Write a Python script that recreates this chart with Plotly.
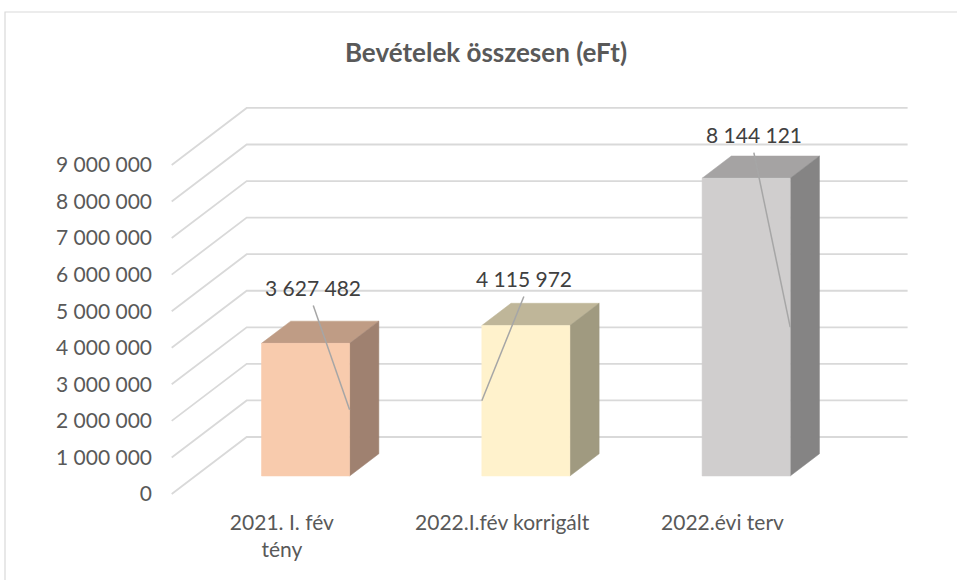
import plotly.graph_objects as go

# ---- data ----
categories = ["2021. I. fév<br>tény", "2022.I.fév korrigált", "2022.évi terv"]
values = [3627482, 4115972, 8144121]
value_labels = ["3 627 482", "4 115 972", "8 144 121"]
y_ticks = [0, 1000000, 2000000, 3000000, 4000000, 5000000, 6000000, 7000000, 8000000, 9000000]

# ---- styles / layout ----
front_colors = ["#F8CBAD", "#FFF2CC", "#D0CECE"]
top_colors = ["#BF9C85", "#BFB699", "#A5A3A3"]
side_colors = ["#9F8170", "#A09A80", "#858484"]
grid_color = "#D9D9D9"
text_color = "#595959"
label_color = "#404040"
leader_color = "#A6A6A6"
FONT = "Lato, 'Open Sans', sans-serif"

# 3D projection parameters (axis units)
D = 0.3404        # full depth shift in x (category units)
H = 1559000       # full depth shift in y (value units)
HALF_W = 0.2      # bar half width
D_FRONT = 0.316   # depth fraction of bar front
D_BACK = 0.706    # depth fraction of bar back

# label offsets relative to bar front top
label_dx = [0.035, -0.009, 0.035]
label_dy = [1515000, 1273000, 1183000]
leader_gap = 480000
anchor_side = [1, -1, 1]

# pixel geometry of plot area
W, Hpx = 957, 580
L, R, T, B = 165, 915, 100, 500
PX_X = 220.3          # px per category unit
PX_Y = 36.56 / 1e6    # px per value unit
X0PX = 171.7          # pixel of x=-0.5
Y0PX = 494            # pixel of y=0


def px2x(p):
    return -0.5 + (p - X0PX) / PX_X


def px2y(p):
    return (Y0PX - p) / PX_Y


fig = go.Figure()

# gridlines: side wall diagonal + back wall horizontal
n_cat = len(categories)
for v in y_ticks:
    fig.add_trace(go.Scatter(
        x=[-0.5, -0.5 + D, n_cat - 0.5 + D],
        y=[v, v + H, v + H],
        mode="lines", line=dict(color=grid_color, width=1.8),
        hoverinfo="skip", showlegend=False))

# bars
for i, v in enumerate(values):
    xl, xr = i - HALF_W, i + HALF_W
    fx, fy = D_FRONT * D, D_FRONT * H
    bx, by = D_BACK * D, D_BACK * H
    # top face
    fig.add_trace(go.Scatter(
        x=[xl + fx, xr + fx, xr + bx, xl + bx, xl + fx],
        y=[v + fy, v + fy, v + by, v + by, v + fy],
        fill="toself", fillcolor=top_colors[i], mode="lines",
        line=dict(color=top_colors[i], width=0.5),
        hoverinfo="skip", showlegend=False))
    # side face
    fig.add_trace(go.Scatter(
        x=[xr + fx, xr + bx, xr + bx, xr + fx, xr + fx],
        y=[fy, by, v + by, v + fy, fy],
        fill="toself", fillcolor=side_colors[i], mode="lines",
        line=dict(color=side_colors[i], width=0.5),
        hoverinfo="skip", showlegend=False))
    # front face
    fig.add_trace(go.Scatter(
        x=[xl + fx, xr + fx, xr + fx, xl + fx, xl + fx],
        y=[fy, fy, v + fy, v + fy, fy],
        fill="toself", fillcolor=front_colors[i], mode="lines",
        line=dict(color=front_colors[i], width=0.5),
        hoverinfo="skip", showlegend=False))

# data labels with leader lines
for i, v in enumerate(values):
    fx, fy = D_FRONT * D, D_FRONT * H
    lx = i + fx + label_dx[i]
    ly = v + fy + label_dy[i]
    ax = i + anchor_side[i] * HALF_W + fx
    ay = v / 2 + fy
    fig.add_trace(go.Scatter(
        x=[lx, ax], y=[ly - leader_gap, ay], mode="lines",
        line=dict(color=leader_color, width=1.5),
        hoverinfo="skip", showlegend=False))
    fig.add_annotation(x=lx, y=ly, text=value_labels[i], showarrow=False,
                       xanchor="center", yanchor="middle",
                       font=dict(family=FONT, size=21, color=label_color))

# outer border
fig.add_shape(type="rect", xref="paper", yref="paper",
              x0=(5 - L) / (R - L), x1=(965 - L) / (R - L),
              y0=(B - 590) / (B - T), y1=(B - 12) / (B - T),
              line=dict(color="#D9D9D9", width=1.2), fillcolor="rgba(0,0,0,0)",
              layer="below")

fig.update_layout(
    width=W, height=Hpx,
    margin=dict(l=L, r=W - R, t=T, b=Hpx - B),
    paper_bgcolor="white", plot_bgcolor="white",
    separators=", ",
    font=dict(family=FONT, size=21, color=text_color),
    title=dict(text="<b>Bevételek összesen (eFt)</b>",
               x=486 / W, xref="container", xanchor="center",
               y=1 - 53 / Hpx, yref="container", yanchor="middle",
               font=dict(family=FONT, size=26, color=text_color)),
    xaxis=dict(range=[px2x(L), px2x(R)], tickvals=list(range(n_cat)),
               ticktext=categories, showgrid=False, zeroline=False,
               showline=False, ticks="", ticklabelstandoff=8,
               fixedrange=True),
    yaxis=dict(range=[px2y(B), px2y(T)], tickvals=y_ticks,
               tickformat=",d", showgrid=False, zeroline=False,
               showline=False, ticks="", ticklabelstandoff=12,
               fixedrange=True),
)

fig.write_html("out.html",
               config={"displayModeBar": False},
               post_script="document.body.style.margin='0';"
                           "document.body.style.overflow='hidden';")
